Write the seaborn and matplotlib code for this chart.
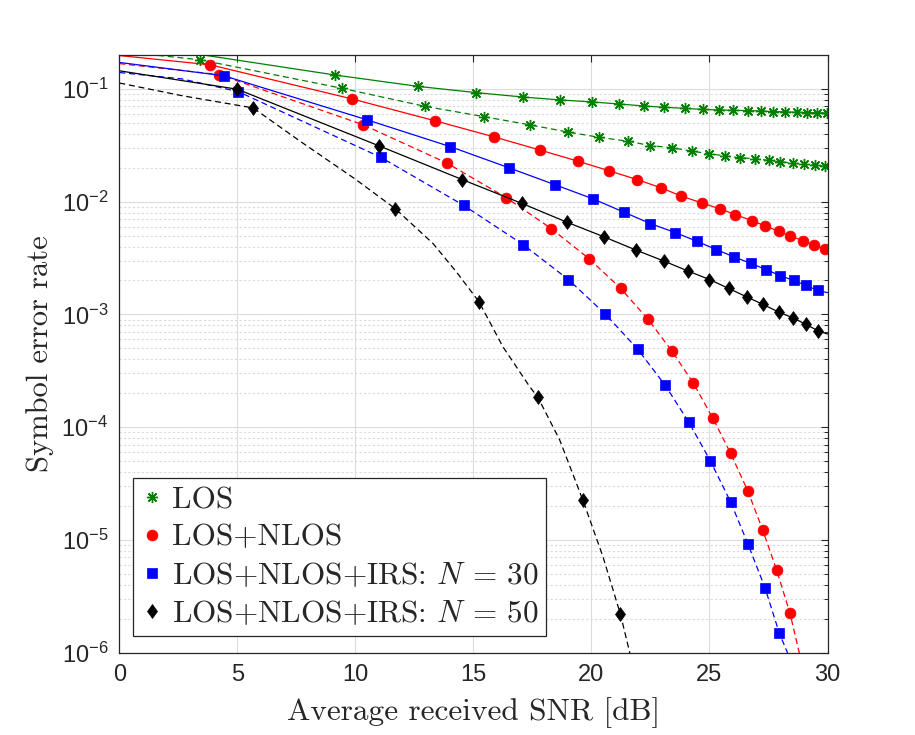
import matplotlib
matplotlib.use("Agg")
import numpy as np
import matplotlib.pyplot as plt
import matplotlib.lines as mlines
from matplotlib.path import Path
from matplotlib.ticker import LogLocator, NullFormatter
import seaborn as sns

# ---------------- values ----------------
# LOS, solid (markers)
los_x = [9.14, 12.66, 15.12, 17.08, 18.65, 20.03, 21.16, 22.21, 23.09, 23.95, 24.71,
         25.39, 26.01, 26.64, 27.20, 27.68, 28.21, 28.69, 29.15, 29.57, 29.96]
los_y = [0.133, 0.1054, 0.0928, 0.0849, 0.0800, 0.0767, 0.0736, 0.0707, 0.0688, 0.0673, 0.0659,
         0.0651, 0.0647, 0.0642, 0.0638, 0.0630, 0.0627, 0.0621, 0.0617, 0.0615, 0.0613]
los_start = (0.0, 0.26)

# LOS, dashed
los_d_x = [3.42, 9.45, 12.94, 15.43, 17.38, 19.00, 20.31, 21.54, 22.49, 23.40, 24.25,
           25.00, 25.66, 26.30, 26.94, 27.51, 28.00, 28.52, 29.02, 29.49, 29.91]
los_d_y = [0.1815, 0.1012, 0.0702, 0.0569, 0.0481, 0.0415, 0.0373, 0.0344, 0.0315, 0.0301, 0.0281,
           0.0266, 0.0255, 0.0245, 0.0241, 0.0232, 0.0226, 0.0220, 0.0214, 0.0211, 0.0206]
los_d_start = (0.0, 0.216)

# LOS+NLOS, solid
nlos_x = [3.84, 9.86, 13.39, 15.87, 17.80, 19.42, 20.75, 21.94, 22.94, 23.81,
          24.69, 25.46, 26.10, 26.79, 27.37, 27.93, 28.43, 28.95, 29.41, 29.89]
nlos_y = [0.164, 0.0816, 0.0521, 0.0376, 0.0288, 0.0229, 0.0188, 0.0157, 0.0133, 0.0112,
          0.00973, 0.00861, 0.00768, 0.00680, 0.00608, 0.00546, 0.00496, 0.00452, 0.00416, 0.00381]
nlos_start = (0.0, 0.198)

# LOS+NLOS, dashed
nlos_d_x = [4.24, 10.33, 13.88, 16.39, 18.30, 19.89, 21.24, 22.39, 23.41, 24.32,
            25.14, 25.89, 26.62, 27.25, 27.85, 28.41]
nlos_d_y = [0.134, 0.0481, 0.0220, 0.01086, 0.00577, 0.00313, 0.00170, 0.000908, 0.000473, 0.000245,
            0.000120, 5.89e-5, 2.72e-5, 1.23e-5, 5.35e-6, 2.23e-6]
nlos_d_start = (0.0, 0.168)
nlos_d_end = [(28.8, 1.0e-6), (29.2, 4.5e-7)]

# LOS+NLOS+IRS N=30, solid
irs30_x = [4.43, 10.50, 14.02, 16.50, 18.47, 20.05, 21.36, 22.50, 23.55, 24.46,
           25.29, 26.05, 26.76, 27.40, 27.99, 28.57, 29.09, 29.58]
irs30_y = [0.131, 0.0532, 0.0308, 0.0200, 0.0141, 0.01063, 0.00810, 0.00639, 0.00532, 0.00446,
           0.00376, 0.00323, 0.00283, 0.00250, 0.00221, 0.00200, 0.00181, 0.00163]
irs30_start = (0.0, 0.172)
irs30_end = [(30.0, 0.00156)]

# LOS+NLOS+IRS N=30, dashed
irs30_d_x = [5.04, 11.07, 14.59, 17.10, 19.02, 20.58, 21.96, 23.11, 24.12, 25.04,
             25.89, 26.62, 27.35, 27.96]
irs30_d_y = [0.0947, 0.0248, 0.00927, 0.00417, 0.00204, 0.00101, 0.000491, 0.000237, 0.000111, 5.0e-5,
             2.18e-5, 9.27e-6, 3.76e-6, 1.48e-6]
irs30_d_start = (0.0, 0.140)
irs30_d_extra = [(2.64, 0.123), (28.3, 1.0e-6), (28.6, 5e-7)]

# LOS+NLOS+IRS N=50, solid
irs50_x = [5.00, 11.00, 14.53, 17.05, 18.95, 20.55, 21.90, 23.06, 24.08, 25.00,
           25.81, 26.58, 27.25, 27.93, 28.52, 29.09, 29.61]
irs50_y = [0.0995, 0.0313, 0.0157, 0.00966, 0.00659, 0.00486, 0.00371, 0.00298, 0.00243, 0.00204,
           0.00170, 0.00143, 0.00123, 0.00105, 0.000933, 0.000816, 0.000712]
irs50_start = (0.0, 0.145)
irs50_end = [(30.0, 0.00067)]

# LOS+NLOS+IRS N=50, dashed
irs50_d_x = [5.67, 11.69, 15.23, 17.73, 19.64, 21.23]
irs50_d_y = [0.0679, 0.00867, 0.00130, 0.000184, 2.24e-5, 2.18e-6]
irs50_d_start = (0.0, 0.113)
irs50_d_extra = [(2.64, 0.0873), (7.72, 0.0337), (9.97, 0.0160), (13.29, 0.00425), (14.28, 0.00238),
                 (16.25, 0.000516), (17.38, 0.000229), (18.65, 7.73e-5), (20.48, 7.16e-6),
                 (21.61, 1.02e-6), (21.9, 5e-7)]

legend_labels = ['LOS', 'LOS+NLOS', r'LOS+NLOS+IRS: $N\,=\,30$', r'LOS+NLOS+IRS: $N\,=\,50$']
xticks = [0, 5, 10, 15, 20, 25, 30]
yticks = [1e-6, 1e-5, 1e-4, 1e-3, 1e-2, 1e-1]
ytick_labels = ['$10^{-6}$', '$10^{-5}$', '$10^{-4}$', '$10^{-3}$', '$10^{-2}$', '$10^{-1}$']
###############################################################################

green, red, blue, black = '#008000', '#ff0000', '#0000ff', '#000000'
star = (8, 2, 0)
# MATLAB style diamond, a bit wider than matplotlib's 'd'
diamond = Path([(0, 1), (0.72, 0), (0, -1), (-0.72, 0), (0, 1)],
               [Path.MOVETO, Path.LINETO, Path.LINETO, Path.LINETO, Path.CLOSEPOLY])


def curve(mx, my, start, extra=()):
    # line goes through the markers plus the read-off anchor points
    pts = sorted([start] + list(zip(mx, my)) + list(extra))
    return [p[0] for p in pts], [p[1] for p in pts]


sns.set_theme(style="white")
plt.rcParams['font.family'] = ['Liberation Sans', 'DejaVu Sans']
plt.rcParams['mathtext.fontset'] = 'custom'
plt.rcParams['mathtext.rm'] = 'Liberation Sans'
plt.rcParams['mathtext.it'] = 'Liberation Sans:italic'
plt.rcParams['axes.unicode_minus'] = False

fig = plt.figure(figsize=(9.15, 7.35), dpi=100)
ax = fig.add_axes([0.1304, 0.1122, 0.7740, 0.8129])

dash = (0, (4.8, 3))
series = [
    (los_x, los_y, los_start, [], green, '-', star, 8),
    (los_d_x, los_d_y, los_d_start, [], green, dash, star, 8),
    (nlos_x, nlos_y, nlos_start, [], red, '-', 'o', 7.8),
    (nlos_d_x, nlos_d_y, nlos_d_start, nlos_d_end, red, dash, 'o', 7.8),
    (irs30_x, irs30_y, irs30_start, irs30_end, blue, '-', 's', 6.6),
    (irs30_d_x, irs30_d_y, irs30_d_start, irs30_d_extra, blue, dash, 's', 6.6),
    (irs50_x, irs50_y, irs50_start, irs50_end, black, '-', diamond, 10),
    (irs50_d_x, irs50_d_y, irs50_d_start, irs50_d_extra, black, dash, diamond, 10),
]

for mx, my, st, ex, col, ls, mk, ms in series:
    lx, ly = curve(mx, my, st, ex)
    sns.lineplot(x=lx, y=ly, ax=ax, color=col, linestyle=ls, linewidth=0.9,
                 estimator=None, sort=False, legend=False)
    sns.lineplot(x=mx, y=my, ax=ax, color=col, linestyle='none', marker=mk, markersize=ms,
                 markeredgecolor=col, markeredgewidth=1.0 if mk == star else 0.5,
                 estimator=None, sort=False, legend=False)

ax.set_yscale('log')
ax.set_xlim(0, 30)
ax.set_ylim(1e-6, 0.2)
ax.set_xticks(xticks)
ax.set_xticklabels([str(t) for t in xticks])
ax.set_yticks(yticks)
ax.set_yticklabels(ytick_labels)
ax.yaxis.set_minor_locator(LogLocator(base=10, subs=np.arange(2, 10)))
ax.yaxis.set_minor_formatter(NullFormatter())

ax.grid(True, which='major', color='#dcdcdc', linewidth=0.8, linestyle='-')
ax.grid(True, which='minor', axis='y', color='#dadada', linewidth=0.8, linestyle=(0, (2, 2)))
ax.set_axisbelow(True)

for sp in ax.spines.values():
    sp.set_color('#262626')
    sp.set_linewidth(0.9)
ax.tick_params(which='both', direction='in', top=True, right=True, color='#262626',
               labelcolor='#262626', labelsize=17, pad=8)
ax.tick_params(which='major', length=5, width=0.8)
ax.tick_params(which='minor', length=2.6, width=0.7)

ax.set_xlabel('Average received SNR [dB]', fontfamily='cmr10', fontsize=22.5, labelpad=8)
ax.set_ylabel('Symbol error rate', fontfamily='cmr10', fontsize=22, labelpad=5)

handles = [mlines.Line2D([], [], color=col, marker=mk, linestyle='none', markersize=ms,
                         markeredgecolor=col, markeredgewidth=1.0 if mk == star else 0.5)
           for (_, _, _, _, col, ls, mk, ms) in series[::2]]
leg = ax.legend(handles, legend_labels, loc='lower left', bbox_to_anchor=(0.019, 0.028),
                borderaxespad=0, prop={'family': 'cmr10', 'size': 22.5}, fancybox=False,
                framealpha=1, edgecolor='#262626', handlelength=0.75, handletextpad=0.25,
                borderpad=0.25, labelspacing=0.3)
leg.get_frame().set_linewidth(0.9)
for t in leg.get_texts():
    t.set_math_fontfamily('cm')

fig.savefig('out.png', dpi=100, facecolor='white')
